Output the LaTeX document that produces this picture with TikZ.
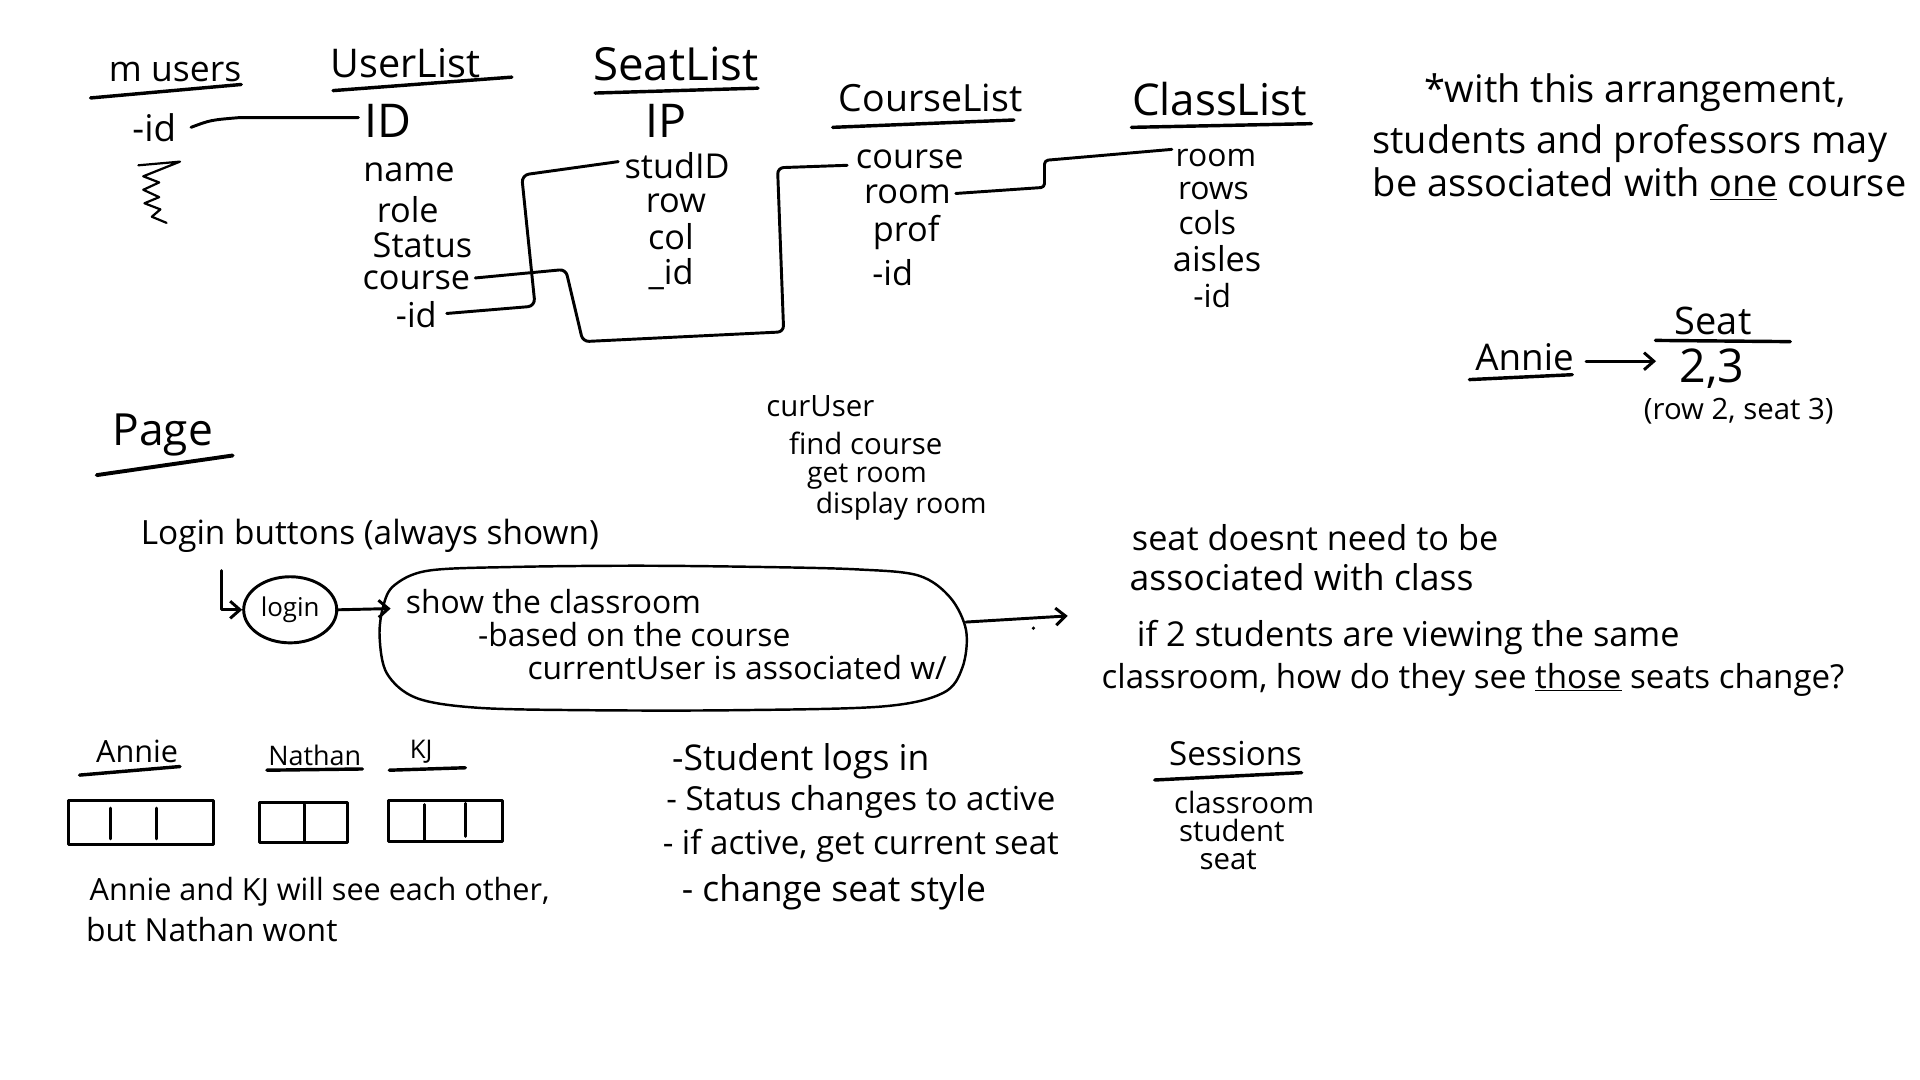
\documentclass[tikz,border=0pt]{standalone}
\usepackage{fontspec}
\setmainfont{Open Sans}
\usepackage{graphicx}
\usetikzlibrary{arrows.meta,shapes.geometric}
\newcommand\hw[2]{\resizebox{#1pt}{!}{#2}}
\newcommand\fs[1]{\fontsize{#1pt}{#1pt}\selectfont}
\tikzset{
  txt/.style={inner sep=0pt, anchor=center},
  item/.style={txt, font=\fs{28}},
  conn/.style={line width=2.4pt, line cap=round, line join=round},
  ul/.style={line width=2.8pt, line cap=round},
  arr/.style={conn, -{Straight Barb[length=8pt,width=14pt]}},
  seatbox/.style={line width=2.4pt, line join=round, line cap=round},
}
\begin{document}
\begin{tikzpicture}[x=1pt,y=-1pt]
\useasboundingbox (0,0) rectangle (1568,882);
\fill[white] (0,0) rectangle (1568,882);

% ---------- table headings ----------
\node[txt] (musers) at (143,59) {\hw{108}{m users}};
\node[txt] (userlist) at (331,52) {\hw{122}{UserList}};
\node[txt] (seatlist) at (552,52) {\hw{135}{SeatList}};
\node[txt] (courselist) at (760,80) {\hw{150}{CourseList}};
\node[txt] (classlist) at (996,81) {\hw{143}{ClassList}};
\draw[ul] (74,80) -- (197,69);
\draw[ul] (272,74) -- (418,63);
\draw[ul] (486,76) -- (619,72);
\draw[ul] (680,104) -- (828,98);
\draw[ul] (924,104) -- (1071,101);

% ---------- m users ----------
\node[item, font=\fs{30}] (muid) at (126,104) {-id};
\draw[conn, line width=1.8pt] (113,135) -- (147,132) -- (117,144) -- (130,149) -- (117,155) -- (130,161) -- (118,166) -- (131,171) -- (124,177) -- (136,182);

% ---------- UserList ----------
\node[item, font=\fs{38}] (ulID) at (317,99) {ID};
\node[item] (ulname) at (334,141) {name};
\node[item] (ulrole) at (333,171) {role};
\node[item] (ulstatus) at (345,200) {Status};
\node[item] (ulcourse) at (340,229) {course};
\node[item] (ulid) at (340,257) {-id};

% ---------- SeatList ----------
\node[item, font=\fs{38}] (slIP) at (544,99) {IP};
\node[item] (slstud) at (553,135) {studID};
\node[item] (slrow) at (552,166) {row};
\node[item] (slcol) at (548,193) {col};
\node[item] (slid) at (548,224) {\_id};

% ---------- CourseList ----------
\node[item] (clcourse) at (743,130) {course};
\node[item] (clroom) at (741,159) {room};
\node[item] (clprof) at (740,190) {prof};
\node[item] (clid) at (729,223) {-id};

% ---------- ClassList ----------
\node[item, font=\fs{26}] (cllroom) at (993,129) {room};
\node[item, font=\fs{26}] (cllrows) at (991,156) {rows};
\node[item, font=\fs{26}] (cllcols) at (986,182) {cols};
\node[item, font=\fs{28}] (cllaisles) at (994,211) {aisles};
\node[item, font=\fs{26}] (cllid) at (990,241) {-id};

% ---------- table connectors ----------
\draw[conn] ([xshift=12pt]muid.east) .. controls (172,98) .. (196,96) -- ([xshift=-5pt,yshift=3pt]ulID.west);
\draw[conn, rounded corners=6pt] ([xshift=8pt,yshift=1pt]ulid.east) -- (437,250) -- (426,143) -- ([xshift=-5pt,yshift=3pt]slstud.west);
\draw[conn, rounded corners=5pt] ([xshift=4pt,yshift=2pt]ulcourse.east) -- (462,220) -- (476,279) -- (640,271) -- (635,137) -- ([xshift=-7pt,yshift=-5pt]clcourse.west);
\draw[conn, rounded corners=3pt] ([xshift=4pt,yshift=1pt]clroom.east) -- (853,153) -- (853,131) -- ([xshift=-3pt,yshift=7pt]cllroom.west);

% ---------- note ----------
\node[txt, font=\fs{31}] (note1) at (1335,76) {*with this arrangement,};
\node[txt, font=\fs{31}] (note2) at (1331,117) {students and professors may};
\node[txt, font=\fs{31}] (note3) at (1339,150) {be associated with \underline{one} course};

% ---------- Annie seat ----------
\node[txt, font=\fs{30}] (annie2) at (1245,292) {Annie};
\node[txt, font=\fs{31}] (seatT) at (1399,262) {Seat};
\node[txt, font=\fs{38}] (seat23) at (1398,301) {2,3};
\node[txt, font=\fs{24}] (rowseat) at (1420,336) {(row 2, seat 3)};
\draw[ul] (1200,310) -- (1284,306);
\draw[ul] (1352,278) -- (1462,279);
\draw[arr] ([xshift=10pt,yshift=-3pt]annie2.east) -- ([xshift=-19pt,yshift=6pt]seat23.west);

% ---------- Page ----------
\node[txt] (page) at (133,355) {\hw{82}{Page}};
\draw[ul, line width=3.2pt] (79,388) -- (190,372);

\node[txt, font=\fs{24}] (cu1) at (670,332) {curUser};
\node[txt, font=\fs{24}] (cu2) at (707,362) {find course};
\node[txt, font=\fs{23}] (cu3) at (708,389) {get room};
\node[txt, font=\fs{23}] (cu4) at (736,413) {display room};

\node[txt] (loginbtn) at (302,438) {\hw{374}{Login buttons (always shown)}};
\node[draw, ellipse, line width=2.4pt, minimum width=76pt, minimum height=54pt, inner sep=0pt] (loginC) at (237,498) {\hw{48}{login}};
\coordinate (Lstart) at (181,466);
\draw[arr] (Lstart) |- (loginC.west);

\draw[line width=2pt] plot[smooth cycle, tension=0.55] coordinates {(322,478) (350,466) (420,463) (520,462) (620,463) (700,465) (750,470) (776,488) (789,515) (786,545) (770,566) (720,577) (600,580) (480,580) (390,578) (340,570) (316,550) (310,520) (313,495)};
\coordinate (blobW) at (319,497);
\coordinate (blobE) at (789,508);
\coordinate (outEnd) at (872,503);
\draw[arr] (loginC.east) -- (blobW);
\draw[arr] (blobE) -- (outEnd);
\fill (844,513) circle (1.5);
\node[txt, font=\fs{26}] (b1) at (452,491) {show the classroom};
\node[txt, font=\fs{26}] (b2) at (518,518) {-based on the course};
\node[txt, font=\fs{26}] (b3) at (602,545) {currentUser is associated w/};

% ---------- right text ----------
\node[txt, font=\fs{28}] (r1) at (1074,439) {seat doesnt need to be};
\node[txt, font=\fs{29}] (r2) at (1063,471) {associated with class};
\node[txt, font=\fs{28}] (r3) at (1150,521) {if 2 students are viewing the same};
\node[txt, font=\fs{27}] (r4) at (1203,555) {classroom, how do they see \underline{those} seats change?};

% ---------- seats example ----------
\node[txt, font=\fs{25}] (bAnnie) at (112,614) {Annie};
\node[txt, font=\fs{22}] (bNathan) at (257,617) {Nathan};
\node[txt, font=\fs{21}] (bKJ) at (344,614) {KJ};
\draw[ul] (65,633) -- (147,626);
\draw[ul] (218,629) -- (296,628);
\draw[ul] (318,629) -- (380,627);
\draw[seatbox] (56,654) rectangle (174,690);
\draw[seatbox] (90,660) -- (90,685);
\draw[seatbox] (128,660) -- (128,685);
\draw[seatbox] (212,655) rectangle (284,688);
\draw[seatbox] (249,657) -- (249,688);
\draw[seatbox] (317,654) rectangle (410,687);
\draw[seatbox] (347,657) -- (347,686);
\draw[seatbox] (380,656) -- (380,683);
\node[txt, font=\fs{25}] (bt1) at (261,728) {Annie and KJ will see each other,};
\node[txt, font=\fs{26}] (bt2) at (173,759) {but Nathan wont};

% ---------- steps ----------
\node[txt, font=\fs{29}] (s1) at (654,622) {-Student logs in};
\node[txt, font=\fs{27}] (s2) at (703,655) {- Status changes to active};
\node[txt, font=\fs{27}] (s3) at (703,691) {- if active, get current seat};
\node[txt, font=\fs{29}] (s4) at (681,729) {- change seat style};

% ---------- Sessions ----------
\node[txt, font=\fs{27}] (sess) at (1009,615) {Sessions};
\draw[ul] (943,637) -- (1063,631);
\node[txt, font=\fs{24}] (sess1) at (1016,655) {classroom};
\node[txt, font=\fs{24}] (sess2) at (1006,678) {student};
\node[txt, font=\fs{24}] (sess3) at (1003,702) {seat};
\end{tikzpicture}
\end{document}
